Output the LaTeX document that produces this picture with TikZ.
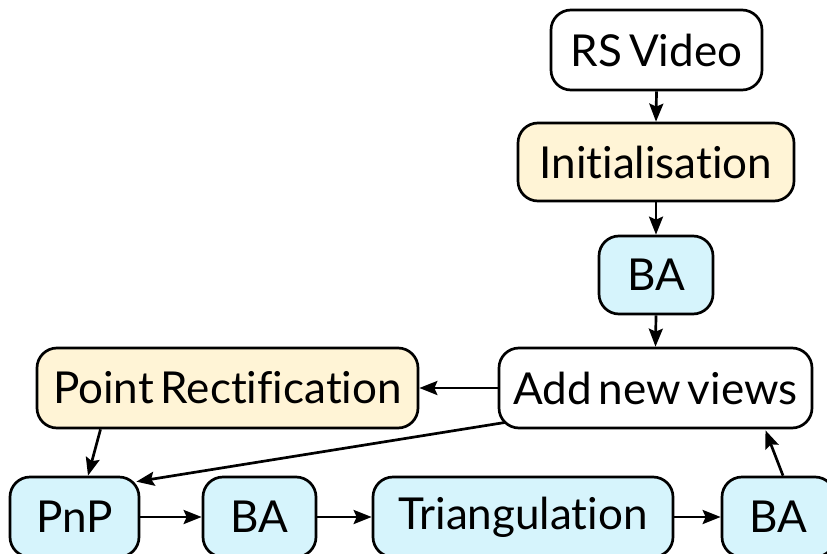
\documentclass[tikz,border=0pt]{standalone}
\usepackage{fontspec}
\setmainfont{Lato}[Ligatures=NoCommon, WordSpace=0.6]
\usetikzlibrary{arrows.meta}
\definecolor{creamfill}{RGB}{255,244,214}
\definecolor{bluefill}{RGB}{214,244,252}
\tikzset{
  box/.style={draw=black, line width=2.7pt, rounded corners=20pt, inner sep=0pt,
    font=\fontsize{44}{50}\selectfont, align=center},
  plainbox/.style={box, fill=white},
  creambox/.style={box, fill=creamfill},
  bluebox/.style={box, fill=bluefill},
  conn/.style={line width=2.7pt, -{Stealth[length=18pt,width=14pt,inset=3pt]}},
}
\begin{document}
\begin{tikzpicture}[x=1pt,y=-1pt]
\useasboundingbox (0,0) rectangle (827,554);
\clip (0,0) rectangle (827,554);
\node[plainbox, minimum width=211pt, minimum height=80pt] (rs) at (656.5,50) {RS Video};
\node[creambox, minimum width=276pt, minimum height=78pt] (init) at (656,162) {Initialisation};
\node[bluebox, minimum width=114pt, minimum height=78pt] (ba1) at (656,275) {BA};
\node[plainbox, minimum width=313pt, minimum height=80pt] (add) at (655.5,388) {Add new views};
\node[creambox, minimum width=381pt, minimum height=80pt] (pr) at (227.5,388) {Point Rectification};
\node[bluebox, minimum width=129pt, minimum height=80pt] (pnp) at (74.5,517) {PnP};
\node[bluebox, minimum width=113pt, minimum height=80pt] (ba2) at (259.5,517) {BA};
\node[bluebox, minimum width=300pt, minimum height=80pt] (tri) at (523,517) {Triangulation};
\node[bluebox, minimum width=113pt, minimum height=80pt] (ba3) at (778.5,517) {BA};

\draw[conn] (rs.south) -- (init.north);
\draw[conn] (init.south) -- (ba1.north);
\draw[conn] (ba1.south) -- (add.north);
\draw[conn] (add.west) -- (pr.east);
\draw[conn] ([xshift=-127pt]pr.south) -- ([xshift=13.5pt]pnp.north);
\draw[conn] ([xshift=8pt,yshift=7pt]add.south west) -- ([xshift=-4pt,yshift=-6pt]pnp.north east);
\draw[conn] (pnp.east) -- (ba2.west);
\draw[conn] (ba2.east) -- (tri.west);
\draw[conn] (tri.east) -- (ba3.west);
\draw[conn] ([xshift=4.5pt]ba3.north) -- ([xshift=110pt,yshift=-1pt]add.south);
\end{tikzpicture}
\end{document}
